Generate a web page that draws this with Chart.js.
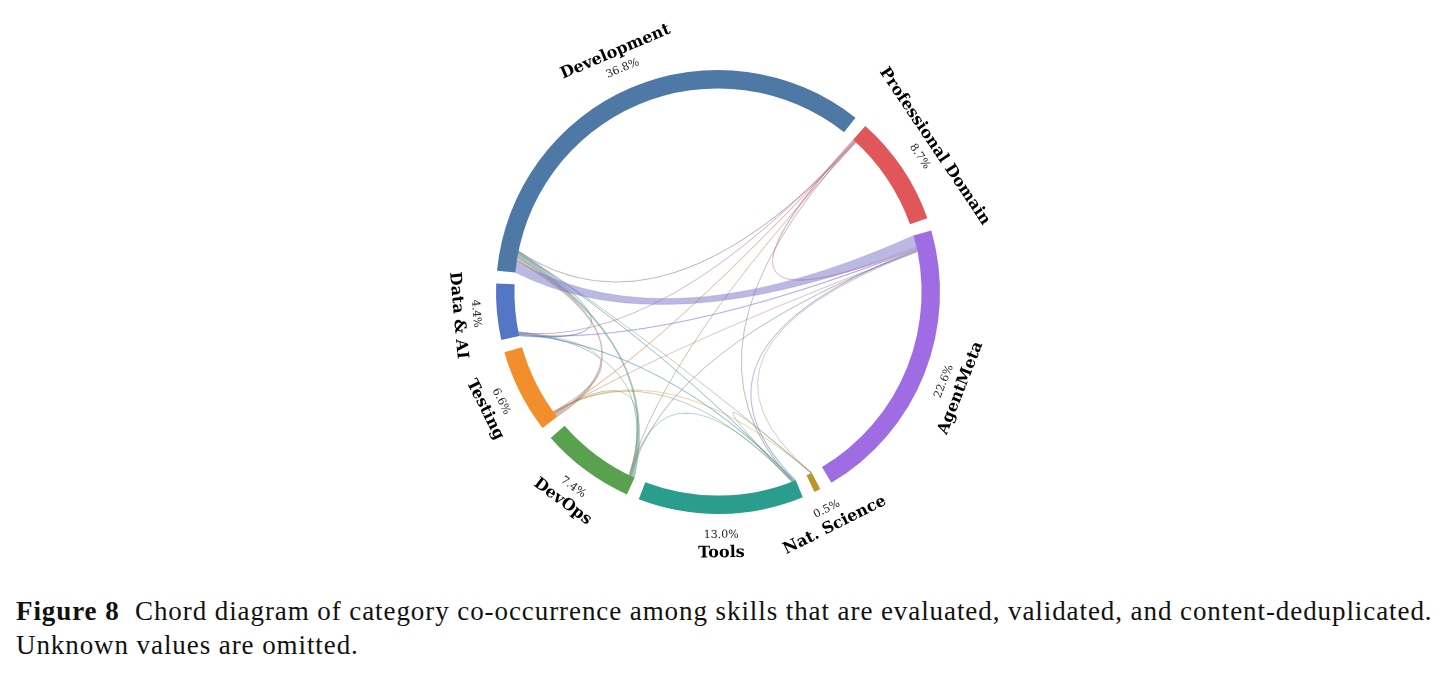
<!DOCTYPE html>
<html>
<head>
<meta charset="utf-8">
<script src="https://cdn.jsdelivr.net/npm/chart.js@4"></script>
<style>
  body { margin: 0; background: #fff; }
  #wrap { position: relative; width: 1447px; height: 675px; }
  #chord { position: absolute; left: 0; top: 0; }
  #caption {
    position: absolute; left: 16px; top: 594px;
    font-family: "Liberation Serif", serif; font-size: 27px; line-height: 34px;
    letter-spacing: 0.92px; color: #111; white-space: nowrap;
  }
</style>
</head>
<body>
<div id="wrap">
  <canvas id="chord" width="1447" height="580"></canvas>
  <div id="caption"><b>Figure 8</b>&nbsp; Chord diagram of category co-occurrence among skills that are evaluated, validated, and content-deduplicated.<br>Unknown values are omitted.</div>
</div>
<script>
// categories, clockwise from the left
const categories = ['Development', 'Professional Domain', 'AgentMeta', 'Nat. Science', 'Tools', 'DevOps', 'Testing', 'Data & AI']
const shares = [36.8, 8.7, 22.6, 0.5, 13.0, 7.4, 6.6, 4.4]
const colors = ['#4e79a7', '#e15759', '#a06ce4', '#b8962e', '#2a9d8f', '#59a14f', '#f28e2b', '#5575c5']

// co-occurrence links (same unit as shares)
const linkFrom  = [0,    0,    0,    0,    0,    0,    0,    1,    1,    1,    1,    1,    2,    2,    2,    2,    2,    4,    4,    4,    4,    5,    5,    6,    6]
const linkTo    = [2,    6,    5,    7,    4,    1,    3,    2,    7,    6,    4,    5,    7,    4,    5,    6,    3,    7,    5,    6,    3,    7,    6,    7,    3]
const linkValue = [1.0,  0.33, 0.30, 0.08, 0.07, 0.04, 0.02, 0.12, 0.05, 0.05, 0.05, 0.03, 0.08, 0.08, 0.06, 0.05, 0.02, 0.08, 0.04, 0.03, 0.02, 0.05, 0.04, 0.03, 0.02]

const PAD_DEG = 3.3
const padValue = PAD_DEG * 100 / (360 - categories.length * PAD_DEG)

// interleave arcs with transparent gaps
let ringData = [], ringColors = [], ringLabels = []
for (let i = 0; i < categories.length; i++) {
  ringData.push(shares[i], padValue)
  ringColors.push(colors[i], 'rgba(0,0,0,0)')
  ringLabels.push(categories[i], '')
}

function mixColor(c1, c2, alpha) {
  const a = parseInt(c1.slice(1), 16), b = parseInt(c2.slice(1), 16)
  const r = (((a >> 16) & 255) + ((b >> 16) & 255)) / 2
  const g = (((a >> 8) & 255) + ((b >> 8) & 255)) / 2
  const bl = ((a & 255) + (b & 255)) / 2
  return 'rgba(' + Math.round(r) + ',' + Math.round(g) + ',' + Math.round(bl) + ',' + alpha + ')'
}

const chordPlugin = {
  id: 'chords',
  beforeDatasetsDraw(chart) {
    const arcs = chart.getDatasetMeta(0).data
    const ctx = chart.ctx
    // slots at the start of each group, biggest link first
    let cursor = categories.map((c, i) => arcs[2 * i].startAngle)
    let slots = linkValue.map(() => ({}))
    for (let i = 0; i < categories.length; i++) {
      const arc = arcs[2 * i]
      const perUnit = (arc.endAngle - arc.startAngle) / shares[i]
      let mine = []
      linkValue.forEach((v, k) => { if (linkFrom[k] === i || linkTo[k] === i) mine.push(k) })
      mine.sort((p, q) => linkValue[q] - linkValue[p])
      for (const k of mine) {
        const a0 = cursor[i], a1 = a0 + linkValue[k] * perUnit
        cursor[i] = a1
        slots[k][i] = [a0, a1]
      }
    }
    const cx = arcs[0].x, cy = arcs[0].y
    const r = arcs[0].innerRadius
    const R = arcs[0].outerRadius
    const qx = cx - 0.24 * R, qy = cy + 0.25 * R
    ctx.save()
    for (let k = linkValue.length - 1; k >= 0; k--) {
      const s = slots[k][linkFrom[k]], t = slots[k][linkTo[k]]
      ctx.beginPath()
      ctx.moveTo(cx + r * Math.cos(s[0]), cy + r * Math.sin(s[0]))
      ctx.arc(cx, cy, r, s[0], s[1])
      ctx.quadraticCurveTo(qx, qy, cx + r * Math.cos(t[0]), cy + r * Math.sin(t[0]))
      ctx.arc(cx, cy, r, t[0], t[1])
      ctx.quadraticCurveTo(qx, qy, cx + r * Math.cos(s[0]), cy + r * Math.sin(s[0]))
      ctx.closePath()
      ctx.fillStyle = mixColor(colors[linkFrom[k]], colors[linkTo[k]], 0.5)
      ctx.strokeStyle = mixColor(colors[linkFrom[k]], colors[linkTo[k]], 0.35)
      ctx.lineWidth = 0.6
      ctx.fill()
      ctx.stroke()
    }
    ctx.restore()
  },
  afterDraw(chart) {
    const arcs = chart.getDatasetMeta(0).data
    const ctx = chart.ctx
    ctx.save()
    ctx.textAlign = 'center'
    ctx.textBaseline = 'middle'
    for (let i = 0; i < categories.length; i++) {
      const arc = arcs[2 * i]
      const mid = (arc.startAngle + arc.endAngle) / 2
      let rot = mid + Math.PI / 2
      while (rot > Math.PI) rot -= 2 * Math.PI
      while (rot <= -Math.PI) rot += 2 * Math.PI
      if (rot > Math.PI / 2) rot -= Math.PI
      if (rot <= -Math.PI / 2) rot += Math.PI
      const texts = [[categories[i], arc.outerRadius + 39, 'bold 16px "DejaVu Serif"', '#000'],
                     [shares[i].toFixed(1) + '%', arc.outerRadius + 21, '11px "DejaVu Serif"', '#222']]
      for (const [txt, rad, font, col] of texts) {
        ctx.save()
        ctx.translate(arc.x + rad * Math.cos(mid), arc.y + rad * Math.sin(mid))
        ctx.rotate(rot)
        ctx.font = font
        ctx.fillStyle = col
        ctx.fillText(txt, 0, 0)
        ctx.restore()
      }
    }
    ctx.restore()
  }
}

const chordChart = {
  type: 'doughnut',
  data: {
    labels: ringLabels,
    datasets: [{
      data: ringData,
      backgroundColor: ringColors,
      borderWidth: 0,
      hoverOffset: 0
    }]
  },
  options: {
    responsive: false,
    animation: false,
    rotation: -174.5 + 90,
    cutout: '91.7%',
    layout: { padding: { left: 496, right: 507, top: 70, bottom: 66 } },
    plugins: { legend: { display: false }, tooltip: { enabled: false } }
  },
  plugins: [chordPlugin]
}

window.onload = () => {
  new Chart(document.getElementById('chord'), chordChart)
}
</script>
</body>
</html>
